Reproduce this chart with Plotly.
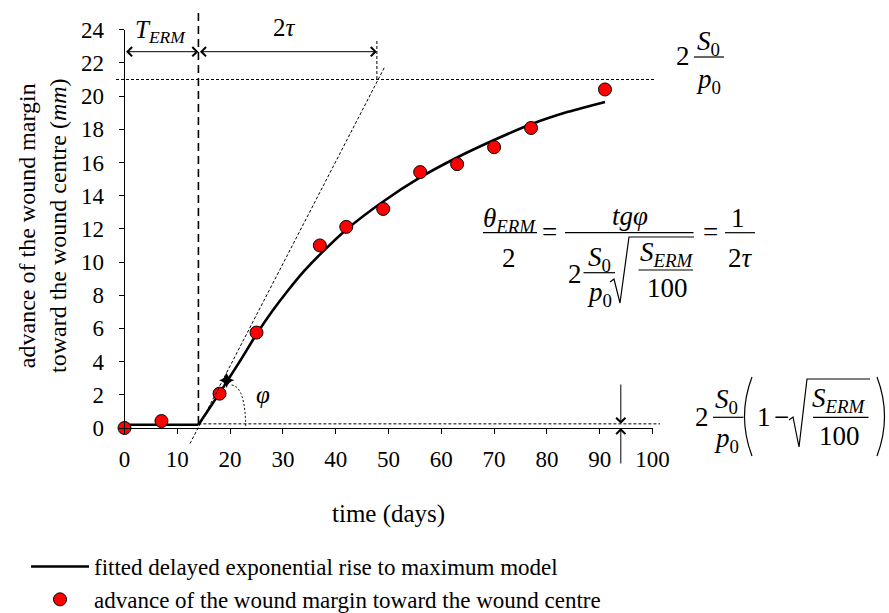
import plotly.graph_objects as go

# ---------------- data ----------------
days = [0, 7, 18, 25, 37, 42, 49, 56, 63, 70, 77, 91]
advance_mm = [0.0, 0.42, 2.07, 5.75, 11.0, 12.12, 13.2, 15.42, 15.9, 16.92, 18.08, 20.4]

fit_flat_days = [0, 14]
fit_flat_mm = [0.2, 0.2]
fit_days = [14, 16, 18, 20, 22, 25, 28, 31, 34, 37, 42, 49, 56, 63, 70, 77, 84, 91]
fit_mm = [0.2, 1.15, 2.1, 3.1, 4.1, 5.65, 7.05, 8.3, 9.45, 10.45, 11.95, 13.65,
          15.1, 16.3, 17.35, 18.3, 19.05, 19.65]

T_erm = 14            # delay (days)
plateau_mm = 21.0     # 2 S0/p0
baseline_mm = 0.25    # 2 S0/p0 (1 - sqrt(S_ERM/100))
tangent_days = [12.4, 49.3]
tangent_mm = [-0.94, 21.77]
tau2_end_days = 47.8
tangent_pt_days = [19.35]
tangent_pt_mm = [2.88]
gap_arrow_days = 94

x_ticks = list(range(0, 101, 10))
y_ticks = list(range(0, 25, 2))

# ---------------- geometry ----------------
W, H = 889, 613
L, R, T, B = 124.5, 652.5, 29.7, 428.0
kx = (R - L) / 100.0
ky = (B - T) / 24.0
SERIF = "Liberation Serif"
FS = 27  # formula font size


def X(px):
    return (px - L) / kx


def Y(py):
    return (B - py) / ky


fig = go.Figure()

# fitted model
fig.add_trace(go.Scatter(x=fit_flat_days, y=fit_flat_mm, mode="lines",
                         line=dict(color="black", width=2.6), showlegend=False,
                         legendgroup="fit", hoverinfo="skip"))
fig.add_trace(go.Scatter(x=fit_days, y=fit_mm, mode="lines",
                         line=dict(color="black", width=2.6, shape="spline", smoothing=0.8),
                         name="fitted delayed exponential rise to maximum model",
                         legendgroup="fit"))
# tangent (overlay axes so it is not clipped)
fig.add_trace(go.Scatter(x=tangent_days, y=tangent_mm, mode="lines", xaxis="x2", yaxis="y2",
                         line=dict(color="black", width=1, dash="3px,2px"),
                         showlegend=False, hoverinfo="skip"))
# data points
fig.add_trace(go.Scatter(x=days, y=advance_mm, mode="markers", cliponaxis=False,
                         marker=dict(color="#ff0000", size=13, line=dict(color="black", width=1)),
                         name="advance of the wound margin toward the wound centre"))
# tangent point
fig.add_trace(go.Scatter(x=tangent_pt_days, y=tangent_pt_mm, mode="markers", xaxis="x2", yaxis="y2",
                         marker=dict(symbol="star-diamond", size=11, color="black"),
                         showlegend=False, hoverinfo="skip"))

shapes = []


def seg(x0, y0, x1, y1, dash="solid", width=1.0):
    shapes.append(dict(type="line", xref="x2", yref="y2", x0=x0, y0=y0, x1=x1, y1=y1,
                       line=dict(color="black", width=width, dash=dash)))


def bar(px0, px1, py, width=1.2):
    seg(X(px0), Y(py), X(px1), Y(py), width=width)


def poly(pts, width=1.2):
    d = "M " + " L ".join(f"{X(a):.4f},{Y(b):.4f}" for a, b in pts)
    shapes.append(dict(type="path", xref="x2", yref="y2", path=d,
                       line=dict(color="black", width=width)))


def qcurve(p0, c, p1, width=1.2, dash="solid"):
    d = (f"M {X(p0[0]):.4f},{Y(p0[1]):.4f} Q {X(c[0]):.4f},{Y(c[1]):.4f} "
         f"{X(p1[0]):.4f},{Y(p1[1]):.4f}")
    shapes.append(dict(type="path", xref="x2", yref="y2", path=d,
                       line=dict(color="black", width=width, dash=dash)))


# reference lines
seg(T_erm, Y(13), T_erm, 0, dash="8px,5px", width=1.6)
seg(X(116), plateau_mm, X(656), plateau_mm, dash="3px,2px", width=1)
seg(T_erm, baseline_mm, X(660), baseline_mm, dash="3px,2px", width=1)
seg(tau2_end_days, Y(41), tau2_end_days, plateau_mm, dash="3px,2px", width=1)
# angle arc
qcurve((231.7, 385), (245.5, 387), (245.7, 428), width=1, dash="2px,2px")

annotations = []


def txt(s, px, py, size=FS, **kw):
    annotations.append(dict(text=s, x=X(px), y=Y(py), xref="x2", yref="y2", showarrow=False,
                            font=dict(family=SERIF, size=size, color="black"),
                            xanchor="center", yanchor="middle", **kw))


def arrow(hx, hy, tx, ty, both=False):
    a = dict(text="", x=hx, y=hy, ax=tx, ay=ty, xref="x2", yref="y2", axref="x2", ayref="y2",
             showarrow=True, arrowhead=4, arrowsize=1.8, arrowwidth=1, arrowcolor="black")
    if both:
        a.update(arrowside="end+start", startarrowhead=4, startarrowsize=1.8)
    annotations.append(a)


y_arr = Y(51.7)
arrow(T_erm, y_arr, 0, y_arr, both=True)
arrow(tau2_end_days, y_arr, T_erm, y_arr, both=True)
arrow(gap_arrow_days, baseline_mm, gap_arrow_days, Y(383))
arrow(gap_arrow_days, 0, gap_arrow_days, Y(465))

txt("<i>T<sub>ERM</sub></i>", 160, 31, size=25)
txt("2<i>τ</i>", 284, 27, size=25)
txt("<i>φ</i>", 263, 394, size=25)

# formula 1: 2 S0/p0
txt("2", 682.5, 56)
txt("<i>S</i><sub>0</sub>", 708, 43)
bar(694, 724, 57)
txt("<i>p</i><sub>0</sub>", 708, 81)

# formula 2
txt("<i>θ</i><sub><i>ERM</i></sub>", 509, 220)
bar(483, 537, 232.7)
txt("2", 509, 258)
txt("=", 549, 232)
bar(565, 693.5, 232.7)
txt("<i>tgφ</i>", 630, 216)
txt("2", 575, 274)
txt("<i>S</i><sub>0</sub>", 599, 259)
bar(583.5, 615, 272.7)
txt("<i>p</i><sub>0</sub>", 599, 294)
poly([(610, 282), (614, 279), (620, 303), (629, 237), (694, 237)])
txt("<i>S</i><sub><i>ERM</i></sub>", 667, 254)
bar(638.5, 693, 270)
txt("100", 667, 288)
txt("=", 710, 232)
txt("1", 738, 218)
bar(725, 755, 232.7)
txt("2<i>τ</i>", 740, 258)

# formula 3
txt("2", 702, 417)
txt("<i>S</i><sub>0</sub>", 726, 401)
bar(713, 743.5, 417.3)
txt("<i>p</i><sub>0</sub>", 726, 440)
qcurve((752, 377), (737, 416.5), (752, 456))
txt("1", 764, 417)
txt("−", 781, 417)
poly([(789, 420), (793, 417), (799, 447), (807, 379), (870, 379)])
txt("<i>S</i><sub><i>ERM</i></sub>", 839, 400)
bar(813, 868.5, 417.3)
txt("100", 839, 436)
qcurve((877, 377), (892, 416.5), (877, 456))

# axis titles
txt("advance of the wound margin<br>toward the wound centre (<i>mm</i>)", 42, 226, size=24,
    textangle=-90)
txt("time (days)", 388, 514, size=25)

axis_common = dict(showline=True, linecolor="black", linewidth=1, ticks="outside",
                   tickcolor="black", tickwidth=1, showgrid=False, zeroline=False,
                   automargin=False,
                   tickfont=dict(family=SERIF, size=23, color="black"))

fig.update_layout(
    width=W, height=H, autosize=False,
    margin=dict(l=0, r=0, t=0, b=0, pad=0, autoexpand=False),
    paper_bgcolor="white", plot_bgcolor="rgba(0,0,0,0)",
    xaxis=dict(domain=[L / W, R / W], range=[0, 100], tickvals=x_ticks, ticklen=5,
               ticklabelstandoff=5, anchor="y", **axis_common),
    yaxis=dict(domain=[1 - B / H, 1 - T / H], range=[0, 24], tickvals=y_ticks, ticklen=5,
               ticklabelstandoff=10, anchor="x", **axis_common),
    xaxis2=dict(domain=[0, 1], range=[X(0), X(W)], visible=False, anchor="y2", fixedrange=True),
    yaxis2=dict(domain=[0, 1], range=[Y(H), Y(0)], visible=False, anchor="x2", fixedrange=True),
    shapes=shapes,
    annotations=annotations,
    showlegend=True,
    legend=dict(x=26 / W, y=1 - 545 / H, xref="container", yref="container",
                xanchor="left", yanchor="top",
                font=dict(family=SERIF, size=23, color="black"),
                bgcolor="rgba(0,0,0,0)", itemwidth=58, traceorder="normal"),
    font=dict(family=SERIF, color="black"),
)

fig.write_html("out.html", config={"displayModeBar": False})
